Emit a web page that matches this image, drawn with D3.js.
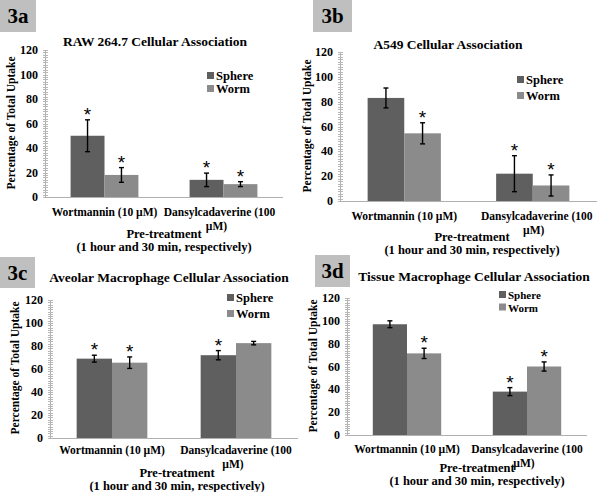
<!DOCTYPE html>
<html><head><meta charset="utf-8">
<script src="https://cdn.jsdelivr.net/npm/d3@7"></script>
<style>
body{margin:0;background:#fff;}
svg{display:block;}
</style></head>
<body>
<svg id="chart" width="600" height="492"></svg>
<script>
// ---------- data ----------
const categories = ["Wortmannin (10 µM)", "Dansylcadaverine (100 µM)"];
const series = ["Sphere", "Worm"];
const panelLabels = ["3a", "3b", "3c", "3d"];
const titles = ["RAW 264.7 Cellular Association", "A549 Cellular Association",
  "Aveolar Macrophage Cellular Association", "Tissue Macrophage Cellular Association"];
const sphereValues = [[50, 14], [83, 22], [69, 72], [97, 38]];
const wormValues   = [[18, 10.5], [54.5, 12.5], [65.5, 82.5], [71.5, 60]];
const sphereErrors = [[13, 5.5], [8, 14.5], [3, 4], [3, 3.5]];
const wormErrors   = [[6, 2], [8.5, 8.5], [5, 1.5], [4.5, 4]];
const sphereStars  = [[1, 1], [0, 1], [1, 1], [0, 1]];
const wormStars    = [[1, 1], [1, 1], [1, 0], [1, 1]];
const yTicks = [0, 20, 40, 60, 80, 100, 120];
const yLabel = "Percentage of Total Uptake";
const xTitle = ["Pre-treatment", "(1 hour and 30 min, respectively)"];

// ---------- layout ----------
const SERIF = "'Liberation Serif', 'Times New Roman', serif";
const layouts = [
  {x0:45, x1:283, yb:197, yt:50, box:[0,0,36,32], title:[155,46], yl:[11,123],
   leg:[207,76,13,12.5], xl:[212,226], xt:[164,238,251], catShift:[0,-4]},
  {x0:340, x1:597, yb:201, yt:52, box:[313,0,39,32], title:[448,49], yl:[307,126],
   leg:[517,80,16,12.5], xl:[216,230], xt:[472,241,254], catShift:[0,4]},
  {x0:50, x1:298, yb:438, yt:300, box:[0,257,35,31], title:[169,282], yl:[15,368],
   leg:[227,298,16,12.5], xl:[450,464], xt:[177,477,490], catShift:[0,0]},
  {x0:347, x1:587, yb:435, yt:298, box:[315,255,35,32], title:[474,281], yl:[313,366],
   leg:[499,295,12.5,11], xl:[449,463], xt:[477,472,485], catShift:[0,0]}
];
const colors = {Sphere:"#5f5f5f", Worm:"#8b8b8b"};

const svg = d3.select("#chart");
const txt = (sel, size) => sel.attr("font-family", SERIF).attr("font-weight", "bold").attr("font-size", size).attr("fill", "#000");

layouts.forEach((L, i) => {
  const g = svg.append("g");
  const y = d3.scaleLinear().domain([0, 120]).range([L.yb, L.yt]);
  const x = d3.scaleBand().domain(categories).range([L.x0, L.x1]);
  const bw = x.bandwidth();
  const barW = bw * 0.285;
  const xs = d3.scaleBand().domain(series).range([bw/2 - barW, bw/2 + barW]);

  // panel label box
  g.append("rect").attr("x", L.box[0]).attr("y", L.box[1]).attr("width", L.box[2]).attr("height", L.box[3]).attr("fill", "#bfbfbf");
  txt(g.append("text").attr("x", L.box[0] + L.box[2]/2).attr("y", L.box[1] + L.box[3]/2 + 7)
    .attr("text-anchor", "middle"), 21).text(panelLabels[i]);

  // title
  txt(g.append("text").attr("x", L.title[0]).attr("y", L.title[1]).attr("text-anchor", "middle"), 13.5).text(titles[i]);

  // y axis with minor ticks
  const minor = d3.range(0, 121, 2);
  g.append("line").attr("x1", L.x0 + 0.5).attr("x2", L.x0 + 0.5).attr("y1", y(0)).attr("y2", y(120)).attr("stroke", "#b0b0b0");
  g.selectAll(".mt").data(minor).join("line")
    .attr("x1", L.x0 - 2).attr("x2", L.x0 + 3).attr("y1", d => Math.round(y(d)) + 0.5).attr("y2", d => Math.round(y(d)) + 0.5)
    .attr("stroke", "#b8b8b8");
  txt(g.selectAll(".yt").data(yTicks).join("text")
    .attr("x", L.x0 - 7).attr("y", d => y(d) + 4).attr("text-anchor", "end"), 12).text(d => d);

  // x axis
  g.append("line").attr("x1", L.x0).attr("x2", L.x1).attr("y1", y(0) + 0.5).attr("y2", y(0) + 0.5).attr("stroke", "#b0b0b0");

  // y label
  txt(g.append("text").attr("transform", `translate(${L.yl[0]},${L.yl[1]}) rotate(-90)`)
    .attr("text-anchor", "middle").attr("dy", "0.35em"), 11.5).text(yLabel);

  // bars
  const rows = [];
  categories.forEach((c, ci) => {
    rows.push({c, s:"Sphere", v:sphereValues[i][ci], e:sphereErrors[i][ci], star:sphereStars[i][ci]});
    rows.push({c, s:"Worm", v:wormValues[i][ci], e:wormErrors[i][ci], star:wormStars[i][ci]});
  });
  g.selectAll(".bar").data(rows).join("rect")
    .attr("x", d => x(d.c) + xs(d.s)).attr("width", xs.bandwidth())
    .attr("y", d => y(d.v)).attr("height", d => y(0) - y(d.v))
    .attr("fill", d => colors[d.s]);
  // error bars
  const cx = d => x(d.c) + xs(d.s) + xs.bandwidth()/2;
  const eb = g.selectAll(".eb").data(rows).join("g").attr("stroke", "#000").attr("stroke-width", 1.4);
  eb.append("line").attr("x1", cx).attr("x2", cx).attr("y1", d => y(d.v + d.e)).attr("y2", d => y(d.v - d.e));
  eb.append("line").attr("x1", d => cx(d) - 2.5).attr("x2", d => cx(d) + 2.5).attr("y1", d => y(d.v + d.e)).attr("y2", d => y(d.v + d.e));
  eb.append("line").attr("x1", d => cx(d) - 2.5).attr("x2", d => cx(d) + 2.5).attr("y1", d => y(d.v - d.e)).attr("y2", d => y(d.v - d.e));
  // stars
  g.selectAll(".star").data(rows.filter(d => d.star)).join("text")
    .attr("x", cx).attr("y", d => y(d.v + d.e) + 1).attr("text-anchor", "middle")
    .attr("font-size", 19).attr("font-family", "'Liberation Sans', Arial, sans-serif").attr("fill", "#000").text("*");

  // category labels
  categories.forEach((c, ci) => {
    const cxp = x(c) + bw/2;
    if (ci === 0) {
      txt(g.append("text").attr("x", cxp).attr("y", L.xl[0] + 4).attr("text-anchor", "middle"), 11.5).text(c);
    } else {
      txt(g.append("text").attr("x", cxp + L.catShift[1]).attr("y", L.xl[0] + 4).attr("text-anchor", "middle"), 11.5).text(c.replace(" µM)", ""));
      txt(g.append("text").attr("x", cxp + L.catShift[1] - 3).attr("y", L.xl[1] + 4).attr("text-anchor", "middle"), 11.5).text("µM)");
    }
  });
  // x title
  txt(g.append("text").attr("x", L.xt[0]).attr("y", L.xt[1]).attr("text-anchor", "middle"), 12.5).text(xTitle[0]);
  txt(g.append("text").attr("x", L.xt[0]).attr("y", L.xt[2]).attr("text-anchor", "middle"), 12.5).text(xTitle[1]);

  // legend
  series.forEach((s, si) => {
    const ly = L.leg[1] + si * L.leg[2];
    g.append("rect").attr("x", L.leg[0]).attr("y", ly - 4).attr("width", 7).attr("height", 7).attr("fill", colors[s]);
    txt(g.append("text").attr("x", L.leg[0] + 9).attr("y", ly + 4), L.leg[3]).text(s);
  });
});
</script>
</body></html>
